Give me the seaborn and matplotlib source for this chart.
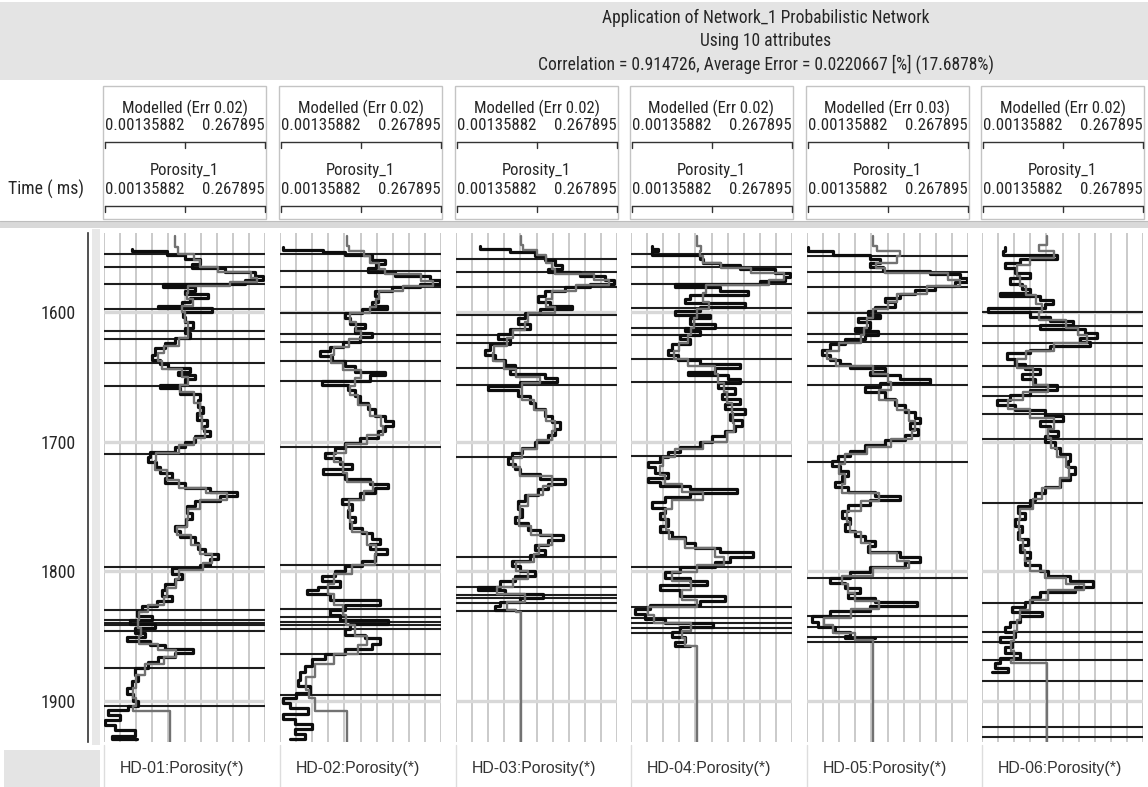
import numpy as np
import pandas as pd
import matplotlib
matplotlib.use("Agg")
import matplotlib.pyplot as plt
import seaborn as sns
from matplotlib import font_manager
from matplotlib.font_manager import FontProperties
from matplotlib.textpath import TextPath
from matplotlib.patches import Rectangle
from matplotlib.lines import Line2D
from matplotlib.transforms import Affine2D

# ---------------- data ----------------
WELLS = ["HD-01", "HD-02", "HD-03", "HD-04", "HD-05", "HD-06"]
ERRS = ["0.02", "0.02", "0.02", "0.02", "0.03", "0.02"]
X_MIN = 0.00135882
X_MAX = 0.267895
X_MIN_LABEL = "0.00135882"
X_MAX_LABEL = "0.267895"
CURVE_NAME = "Porosity_1"
TITLE_LINES = ["Application of Network_1 Probabilistic Network",
               "Using 10 attributes",
               "Correlation = 0.914726, Average Error = 0.0220667 [%] (17.6878%)"]
TIME_TICKS = [1600, 1700, 1800, 1900]
TIME_TOP, TIME_BOTTOM = 1539, 1932

HD01_ACTUAL = [(1551,0.048),(1553,0.106),(1556,0.135),(1559,0.160),(1563,0.147),(1566,0.202),(1569,0.251),(1572,0.264),
    (1575,0.235),(1578,0.099),(1581,0.152),(1584,0.135),(1586,0.174),(1589,0.144),(1592,0.130),(1595,0.091),(1597,0.180),
    (1600,0.132),(1604,0.135),(1608,0.149),(1612,0.135),(1616,0.144),(1620,0.119),(1624,0.102),(1628,0.086),(1633,0.081),
    (1637,0.094),(1640,0.107),(1643,0.144),(1646,0.124),(1649,0.152),(1652,0.135),(1656,0.094),(1659,0.127),(1663,0.160),
    (1668,0.157),(1673,0.165),(1678,0.155),(1683,0.172),(1688,0.167),(1692,0.177),(1696,0.152),(1700,0.135),(1704,0.119),
    (1708,0.078),(1712,0.074),(1716,0.088),(1720,0.094),(1724,0.114),(1728,0.102),(1732,0.135),(1736,0.177),(1739,0.222),
    (1742,0.193),(1746,0.152),(1750,0.139),(1755,0.147),(1760,0.137),(1765,0.119),(1769,0.127),(1774,0.152),(1778,0.157),
    (1783,0.169),(1787,0.190),(1791,0.177),(1795,0.160),(1798,0.114),(1802,0.130),(1806,0.119),(1810,0.102),(1815,0.097),
    (1819,0.114),(1823,0.089),(1827,0.064),(1831,0.056),(1835,0.081),(1838,0.045),(1841,0.086),(1844,0.053),(1848,0.069),
    (1851,0.039),(1854,0.078),(1857,0.102),(1860,0.148),(1863,0.119),(1866,0.091),(1870,0.074),(1875,0.053),(1880,0.058),
    (1885,0.048),(1890,0.039),(1895,0.050),(1900,0.058),(1904,0.041),(1907,0.008),(1911,0.028),(1915,0.003),(1919,0.020),
    (1923,0.053),(1927,0.015),(1930,0.056)]
HD01_MODEL = [(1541,0.119),(1550,0.124),(1555,0.150),(1560,0.160),(1565,0.190),(1569,0.245),(1574,0.255),(1577,0.210),
    (1580,0.140),(1585,0.138),(1590,0.148),(1595,0.130),(1600,0.135),(1608,0.140),(1615,0.140),(1620,0.125),(1626,0.100),
    (1632,0.090),(1638,0.098),(1644,0.130),(1650,0.140),(1656,0.128),(1662,0.150),(1670,0.160),(1680,0.163),(1690,0.168),
    (1697,0.150),(1703,0.125),(1709,0.088),(1715,0.085),(1722,0.105),(1730,0.125),(1736,0.170),(1740,0.205),(1745,0.160),
    (1752,0.140),(1760,0.138),(1766,0.122),(1772,0.145),(1780,0.160),(1787,0.180),(1794,0.165),(1799,0.125),(1806,0.120),
    (1813,0.105),(1820,0.100),(1826,0.075),(1832,0.060),(1838,0.058),(1844,0.062),(1850,0.060),(1856,0.090),(1861,0.120),
    (1866,0.100),(1872,0.070),(1880,0.055),(1890,0.050),(1898,0.055),(1904,0.050),(1908,0.110),(1932,0.110)]
HD01_MARKERS = [1555, 1565, 1578, 1598, 1615, 1621, 1639, 1657, 1710, 1797, 1830, 1838, 1840, 1842, 1846, 1875, 1904]

HD02_ACTUAL = [(1550,0.006),(1552,0.073),(1554,0.109),(1556,0.154),(1560,0.175),(1563,0.160),(1566,0.147),(1569,0.192),
    (1572,0.250),(1575,0.266),(1578,0.233),(1581,0.187),(1584,0.159),(1588,0.164),(1592,0.154),(1595,0.178),(1598,0.137),
    (1601,0.109),(1605,0.117),(1609,0.142),(1612,0.125),(1616,0.154),(1619,0.134),(1623,0.106),(1627,0.084),(1630,0.068),
    (1634,0.087),(1638,0.109),(1642,0.125),(1646,0.175),(1649,0.150),(1653,0.071),(1656,0.114),(1660,0.125),(1665,0.134),
    (1670,0.147),(1675,0.159),(1680,0.175),(1684,0.188),(1688,0.175),(1692,0.164),(1697,0.134),(1701,0.109),(1705,0.092),
    (1709,0.076),(1713,0.101),(1717,0.120),(1721,0.073),(1725,0.109),(1729,0.150),(1733,0.180),(1736,0.159),(1740,0.134),
    (1744,0.104),(1748,0.120),(1753,0.114),(1758,0.125),(1762,0.117),(1767,0.137),(1771,0.154),(1775,0.167),(1779,0.150),
    (1783,0.178),(1787,0.159),(1792,0.137),(1796,0.109),(1800,0.092),(1804,0.071),(1808,0.101),(1812,0.064),(1815,0.046),
    (1818,0.084),(1822,0.167),(1826,0.109),(1830,0.084),(1834,0.101),(1838,0.180),(1841,0.117),(1845,0.109),(1849,0.142),
    (1852,0.167),(1856,0.154),(1860,0.109),(1864,0.076),(1868,0.054),(1873,0.043),(1878,0.034),(1884,0.031),(1889,0.051),
    (1894,0.028),(1898,0.006),(1902,0.018),(1906,0.048),(1910,0.006),(1914,0.026),(1918,0.054),(1922,0.026),(1926,0.043),
    (1930,0.018)]
HD02_MODEL = [(1541,0.112),(1549,0.115),(1553,0.140),(1557,0.150),(1562,0.165),(1567,0.175),(1571,0.235),(1576,0.255),
    (1580,0.205),(1584,0.165),(1590,0.160),(1596,0.150),(1601,0.118),(1608,0.128),(1615,0.135),(1621,0.115),(1627,0.090),
    (1633,0.085),(1639,0.105),(1645,0.135),(1651,0.125),(1657,0.118),(1664,0.130),(1672,0.150),(1680,0.168),(1688,0.172),
    (1695,0.145),(1702,0.110),(1709,0.090),(1716,0.105),(1724,0.112),(1731,0.155),(1738,0.140),(1745,0.115),(1753,0.118),
    (1762,0.120),(1770,0.145),(1780,0.160),(1788,0.158),(1795,0.120),(1802,0.090),(1810,0.080),(1818,0.090),(1826,0.105),
    (1834,0.110),(1842,0.125),(1850,0.145),(1857,0.130),(1864,0.090),(1872,0.060),(1882,0.045),(1892,0.050),(1898,0.060),
    (1908,0.112),(1932,0.112)]
HD02_MARKERS = [1555, 1568, 1581, 1601, 1617, 1623, 1638, 1653, 1704, 1795, 1829, 1835.5, 1839, 1842, 1845, 1864, 1896]

HD03_ACTUAL = [(1549,0.041),(1551,0.091),(1554,0.132),(1557,0.149),(1560,0.165),(1564,0.177),(1567,0.154),(1569,0.207),
    (1572,0.248),(1575,0.263),(1578,0.223),(1581,0.182),(1584,0.149),(1588,0.137),(1592,0.157),(1595,0.193),(1598,0.140),
    (1601,0.116),(1605,0.104),(1609,0.124),(1613,0.091),(1617,0.071),(1621,0.091),(1625,0.058),(1629,0.049),(1633,0.066),
    (1637,0.083),(1641,0.099),(1644,0.091),(1648,0.149),(1651,0.169),(1654,0.107),(1657,0.054),(1660,0.104),(1665,0.124),
    (1670,0.132),(1675,0.149),(1680,0.160),(1685,0.174),(1690,0.165),(1695,0.154),(1700,0.132),(1705,0.111),(1709,0.094),
    (1713,0.087),(1717,0.099),(1721,0.107),(1725,0.140),(1729,0.182),(1733,0.154),(1737,0.137),(1741,0.116),(1746,0.104),
    (1752,0.111),(1758,0.099),(1763,0.121),(1768,0.140),(1772,0.178),(1776,0.154),(1780,0.132),(1784,0.149),(1788,0.124),
    (1792,0.094),(1796,0.107),(1800,0.132),(1804,0.099),(1808,0.074),(1812,0.038),(1815,0.083),(1818,0.145),(1821,0.107),
    (1824,0.074),(1827,0.066),(1830,0.099)]
HD03_MODEL = [(1541,0.109),(1548,0.112),(1552,0.135),(1556,0.150),(1562,0.160),(1567,0.165),(1571,0.230),(1575,0.255),
    (1579,0.200),(1584,0.160),(1590,0.150),(1596,0.165),(1601,0.120),(1608,0.115),(1614,0.095),(1620,0.085),(1626,0.065),
    (1632,0.062),(1638,0.080),(1644,0.100),(1650,0.140),(1655,0.110),(1660,0.110),(1668,0.130),(1676,0.150),(1684,0.165),
    (1692,0.160),(1699,0.135),(1706,0.110),(1713,0.095),(1720,0.108),(1727,0.160),(1734,0.145),(1741,0.120),(1750,0.108),
    (1758,0.105),(1765,0.125),(1772,0.160),(1780,0.138),(1787,0.130),(1793,0.100),(1800,0.120),(1806,0.095),(1812,0.070),
    (1818,0.115),(1824,0.085),(1830,0.100),(1832,0.109),(1932,0.109)]
HD03_MARKERS = [1559, 1569, 1581, 1602, 1618, 1624, 1643, 1656, 1712, 1789, 1812, 1818.5, 1821, 1825, 1831]

HD04_ACTUAL = [(1549,0.036),(1551,0.046),(1553,0.036),(1556,0.116),(1559,0.121),(1562,0.149),(1564,0.182),(1567,0.240),
    (1570,0.264),(1573,0.256),(1576,0.215),(1578,0.074),(1581,0.149),(1584,0.195),(1587,0.099),(1590,0.091),(1593,0.190),
    (1596,0.116),(1599,0.074),(1602,0.132),(1605,0.099),(1609,0.140),(1612,0.091),(1615,0.116),(1618,0.083),(1621,0.099),
    (1625,0.069),(1629,0.063),(1633,0.079),(1637,0.116),(1640,0.182),(1643,0.140),(1646,0.096),(1649,0.162),(1652,0.182),
    (1655,0.145),(1659,0.174),(1663,0.152),(1667,0.182),(1671,0.157),(1675,0.190),(1679,0.165),(1683,0.185),(1688,0.174),
    (1692,0.157),(1696,0.135),(1700,0.116),(1704,0.083),(1708,0.063),(1712,0.049),(1716,0.030),(1720,0.041),(1724,0.063),
    (1728,0.030),(1731,0.049),(1734,0.099),(1737,0.177),(1740,0.099),(1743,0.058),(1747,0.036),(1751,0.058),(1755,0.049),
    (1760,0.063),(1765,0.049),(1770,0.069),(1774,0.091),(1778,0.107),(1782,0.149),(1785,0.203),(1789,0.165),(1793,0.140),
    (1797,0.083),(1801,0.058),(1805,0.099),(1808,0.127),(1811,0.049),(1815,0.083),(1819,0.157),(1823,0.116),(1826,0.033),
    (1829,0.008),(1833,0.025),(1837,0.058),(1840,0.137),(1843,0.083),(1847,0.069),(1851,0.091),(1855,0.074),(1858,0.099)]
HD04_MODEL = [(1541,0.111),(1549,0.118),(1553,0.115),(1557,0.120),(1562,0.150),(1566,0.200),(1570,0.255),(1575,0.230),
    (1579,0.125),(1585,0.120),(1592,0.130),(1598,0.110),(1605,0.105),(1612,0.100),(1618,0.095),(1624,0.080),(1630,0.072),
    (1636,0.095),(1642,0.140),(1648,0.145),(1655,0.155),(1662,0.160),(1670,0.168),(1678,0.170),(1686,0.172),(1693,0.160),
    (1700,0.120),(1706,0.075),(1712,0.055),(1719,0.050),(1726,0.058),(1733,0.085),(1739,0.120),(1745,0.070),(1752,0.058),
    (1760,0.060),(1768,0.065),(1775,0.090),(1782,0.140),(1789,0.155),(1795,0.110),(1801,0.070),(1808,0.100),(1815,0.085),
    (1822,0.110),(1828,0.030),(1834,0.040),(1840,0.100),(1846,0.085),(1852,0.090),(1858,0.111),(1932,0.111)]
HD04_MARKERS = [1555, 1565, 1578, 1597, 1612, 1618, 1636, 1654, 1711, 1797, 1828, 1836, 1840, 1844, 1848]

HD05_ACTUAL = [(1550,0.003),(1553,0.044),(1556,0.106),(1559,0.122),(1562,0.106),(1565,0.127),(1568,0.205),(1571,0.255),
    (1574,0.266),(1577,0.246),(1580,0.213),(1583,0.180),(1586,0.155),(1589,0.130),(1592,0.147),(1596,0.114),(1599,0.102),
    (1602,0.122),(1605,0.086),(1608,0.106),(1612,0.081),(1615,0.119),(1618,0.097),(1621,0.064),(1625,0.039),(1629,0.026),
    (1633,0.039),(1637,0.056),(1640,0.073),(1643,0.130),(1646,0.106),(1649,0.155),(1652,0.205),(1655,0.122),(1658,0.097),
    (1662,0.130),(1667,0.147),(1672,0.164),(1677,0.180),(1682,0.188),(1686,0.172),(1690,0.185),(1695,0.164),(1699,0.130),
    (1703,0.097),(1707,0.073),(1711,0.053),(1715,0.043),(1719,0.056),(1723,0.069),(1727,0.059),(1731,0.048),(1735,0.069),
    (1739,0.114),(1742,0.155),(1745,0.106),(1749,0.069),(1754,0.059),(1759,0.073),(1764,0.064),(1769,0.081),(1773,0.097),
    (1777,0.114),(1781,0.102),(1785,0.155),(1789,0.188),(1793,0.164),(1797,0.106),(1801,0.073),(1805,0.039),(1809,0.064),
    (1813,0.089),(1817,0.069),(1821,0.114),(1824,0.183),(1827,0.106),(1831,0.039),(1835,0.010),(1839,0.020),(1843,0.048),
    (1847,0.073),(1850,0.064),(1852,0.114)]
HD05_MODEL = [(1541,0.110),(1549,0.118),(1553,0.155),(1557,0.150),(1562,0.115),(1566,0.130),(1570,0.235),(1575,0.255),
    (1580,0.200),(1586,0.150),(1592,0.135),(1598,0.110),(1605,0.100),(1612,0.095),(1618,0.090),(1624,0.055),(1630,0.035),
    (1636,0.050),(1642,0.110),(1648,0.135),(1654,0.140),(1660,0.120),(1668,0.150),(1676,0.170),(1684,0.180),(1692,0.175),
    (1698,0.140),(1704,0.100),(1710,0.065),(1717,0.055),(1725,0.065),(1733,0.060),(1740,0.120),(1746,0.090),(1754,0.068),
    (1762,0.072),(1770,0.090),(1778,0.105),(1786,0.150),(1792,0.170),(1798,0.110),(1804,0.060),(1810,0.070),(1817,0.080),
    (1823,0.120),(1829,0.075),(1836,0.030),(1842,0.045),(1848,0.080),(1853,0.110),(1932,0.110)]
HD05_MARKERS = [1557, 1569, 1581, 1601, 1617, 1623, 1642, 1656, 1716, 1805, 1835, 1843, 1851, 1855]

HD06_ACTUAL = [(1550,0.039),(1553,0.036),(1556,0.126),(1559,0.064),(1562,0.039),(1566,0.056),(1570,0.081),(1574,0.048),
    (1578,0.068),(1582,0.081),(1585,0.031),(1588,0.097),(1591,0.119),(1594,0.106),(1597,0.011),(1600,0.081),(1604,0.114),
    (1607,0.152),(1610,0.097),(1613,0.172),(1616,0.192),(1620,0.164),(1623,0.180),(1626,0.114),(1629,0.081),(1632,0.043),
    (1636,0.056),(1640,0.073),(1644,0.097),(1648,0.068),(1652,0.089),(1656,0.126),(1660,0.081),(1664,0.048),(1668,0.026),
    (1672,0.056),(1676,0.106),(1680,0.135),(1684,0.097),(1688,0.114),(1692,0.127),(1696,0.106),(1700,0.122),(1705,0.130),
    (1710,0.147),(1715,0.144),(1720,0.155),(1725,0.147),(1730,0.130),(1735,0.106),(1740,0.089),(1745,0.081),(1750,0.061),
    (1755,0.073),(1760,0.056),(1765,0.068),(1770,0.061),(1775,0.078),(1780,0.064),(1785,0.081),(1790,0.073),(1795,0.097),
    (1800,0.111),(1804,0.147),(1808,0.185),(1812,0.155),(1816,0.097),(1820,0.084),(1824,0.073),(1828,0.051),(1832,0.101),
    (1835,0.064),(1839,0.048),(1843,0.039),(1847,0.056),(1851,0.031),(1855,0.051),(1859,0.039),(1863,0.064),(1867,0.031),
    (1871,0.023),(1875,0.044),(1878,0.018)]
HD06_MODEL = [(1541,0.109),(1548,0.095),(1553,0.120),(1558,0.080),(1564,0.060),(1572,0.065),(1580,0.075),(1587,0.090),
    (1594,0.100),(1600,0.095),(1606,0.140),(1612,0.160),(1618,0.175),(1624,0.120),(1630,0.075),(1636,0.060),(1643,0.085),
    (1650,0.085),(1656,0.110),(1662,0.070),(1668,0.045),(1675,0.080),(1682,0.120),(1690,0.110),(1697,0.115),(1705,0.125),
    (1712,0.140),(1720,0.145),(1728,0.130),(1736,0.100),(1744,0.085),(1752,0.065),(1760,0.062),(1768,0.065),(1776,0.070),
    (1784,0.072),(1792,0.080),(1800,0.105),(1805,0.140),(1810,0.170),(1815,0.110),(1822,0.080),(1830,0.065),(1838,0.060),
    (1846,0.055),(1854,0.050),(1862,0.055),(1869,0.050),(1871,0.109),(1932,0.109)]
HD06_MARKERS = [1600, 1611, 1624, 1642, 1658, 1665, 1679, 1698, 1747.5, 1825, 1847, 1855, 1869, 1885, 1920.5, 1928]

ACTUALS = [HD01_ACTUAL, HD02_ACTUAL, HD03_ACTUAL, HD04_ACTUAL, HD05_ACTUAL, HD06_ACTUAL]
MODELS = [HD01_MODEL, HD02_MODEL, HD03_MODEL, HD04_MODEL, HD05_MODEL, HD06_MODEL]
MARKERS = [HD01_MARKERS, HD02_MARKERS, HD03_MARKERS, HD04_MARKERS, HD05_MARKERS, HD06_MARKERS]

# ---------------- style / fonts ----------------
sns.set_style("white")
avail = {f.name for f in font_manager.fontManager.ttflist}
FAMILY = next((f for f in ["Liberation Sans Narrow", "Arial Narrow", "Roboto Condensed",
                           "DejaVu Sans Condensed", "Liberation Sans", "Roboto", "DejaVu Sans"]
               if f in avail), "DejaVu Sans")
REGULAR = next((f for f in ["Liberation Sans", "Open Sans", "Noto Sans", "DejaVu Sans"] if f in avail),
               "DejaVu Sans")
plt.rcParams["font.family"] = [FAMILY, "DejaVu Sans"]


def fp_fit(text, target_px, family=FAMILY):
    """Font properties sized so that `text` is about target_px wide at 100 dpi."""
    w = TextPath((0, 0), text, size=10, prop=FontProperties(family=family)).get_extents().width
    size = 10.0 * target_px / (w * 100.0 / 72.0)
    return FontProperties(family=family, size=size)


FP_TITLE = fp_fit(TITLE_LINES[2], 455)
FP_HEAD = fp_fit("Modelled (Err 0.02)", 124)
FP_NUM = fp_fit("0.00135882", 77)
FP_TIME = fp_fit("Time ( ms)", 74)
FP_TICK = fp_fit("1600", 33)
FP_WELL = fp_fit("HD-01:Porosity(*)", 122, REGULAR)

W, H = 1148, 787
fig = plt.figure(figsize=(W / 100, H / 100), dpi=100)
PX = Affine2D().scale(1.0 / W, -1.0 / H).translate(0, 1) + fig.transFigure


def rect(x0, y0, x1, y1, **kw):
    fig.add_artist(Rectangle((x0, y0), x1 - x0, y1 - y0, transform=PX, **kw))


def line(xs, ys, **kw):
    fig.add_artist(Line2D(xs, ys, transform=PX, **kw))


TXT = "#262626"
# title band
rect(0, 2, W, 80, facecolor="#e4e4e4", edgecolor="none", zorder=0)
for i, t in enumerate(TITLE_LINES):
    fig.text(766, 18 + 23 * i, t, transform=PX, ha="center", va="center",
             fontproperties=FP_TITLE, color=TXT)

TRACK_X = [104, 280, 456, 631, 807, 982]
TW = 161
PLOT_TOP, PLOT_BOT = 233, 742

# header boxes
for k, x0 in enumerate(TRACK_X):
    rect(x0 - 1, 86, x0 + TW + 1, 219, facecolor="white", edgecolor="#c4c4c4", lw=1.0, zorder=1)
    xc = x0 + TW / 2
    for (lab, ty, vy, by) in [(f"Modelled (Err {ERRS[k]})", 108, 126, 142),
                              (CURVE_NAME, 171, 189, 206)]:
        fig.text(xc, ty, lab, transform=PX, ha="center", va="center", fontproperties=FP_HEAD, color=TXT)
        fig.text(x0 + 1, vy, X_MIN_LABEL, transform=PX, ha="left", va="center", fontproperties=FP_NUM, color=TXT)
        fig.text(x0 + TW, vy, X_MAX_LABEL, transform=PX, ha="right", va="center", fontproperties=FP_NUM, color=TXT)
        line([x0 + 1, x0 + TW], [by, by], color="#333333", lw=1.0)
        for tx in (x0 + 1, xc, x0 + TW):
            line([tx, tx], [by, by + 6], color="#333333", lw=1.0)

fig.text(8, 189, "Time ( ms)", transform=PX, ha="left", va="center", fontproperties=FP_TIME, color=TXT)

# separator band under header
rect(0, 221, W, 228, facecolor="#d9d9d9", edgecolor="none", zorder=0)
line([0, W], [221, 221], color="#bdbdbd", lw=0.8)
# light strip left of tracks
rect(92, 229, 100, 745, facecolor="#e8e8e8", edgecolor="none", zorder=0)

# bottom label band
rect(4, 750, 100, H, facecolor="#e4e4e4", edgecolor="none", zorder=0)
for k, x0 in enumerate(TRACK_X):
    line([x0, x0], [745, H], color="#dddddd", lw=1.0)
    fig.text(x0 + 16, 768, f"{WELLS[k]}:Porosity(*)", transform=PX, ha="left", va="center",
             fontproperties=FP_WELL, color="#333333")

# time axis
ax_t = fig.add_axes([88 / W, 1 - PLOT_BOT / H, 0.5 / W, (PLOT_BOT - PLOT_TOP) / H])
ax_t.set_ylim(TIME_BOTTOM, TIME_TOP)
ax_t.set_xlim(0, 1)
ax_t.set_yticks(TIME_TICKS)
ax_t.set_yticks(np.arange(1540, 1940, 20), minor=True)
ax_t.set_xticks([])
for s in ["top", "right", "bottom"]:
    ax_t.spines[s].set_visible(False)
ax_t.spines["left"].set_color("#333333")
ax_t.spines["left"].set_linewidth(1.2)
ax_t.tick_params(axis="y", which="both", direction="out", length=6, width=1.2, color="#333333",
                 labelcolor=TXT, pad=3)
for lbl in ax_t.get_yticklabels():
    lbl.set_fontproperties(FP_TICK)
ax_t.patch.set_alpha(0)

# tracks
for k, x0 in enumerate(TRACK_X):
    ax = fig.add_axes([x0 / W, 1 - PLOT_BOT / H, TW / W, (PLOT_BOT - PLOT_TOP) / H])
    ax.set_xlim(X_MIN, X_MAX)
    ax.set_ylim(TIME_BOTTOM, TIME_TOP)
    ax.set_xticks(np.linspace(X_MIN, X_MAX, 11))
    ax.set_yticks(TIME_TICKS)
    ax.set_axisbelow(True)
    ax.grid(axis="x", color="#c6c6c6", lw=1.3)
    ax.grid(axis="y", color="#d8d8d8", lw=2.4)
    ax.tick_params(length=0, labelbottom=False, labelleft=False)
    for s in ax.spines.values():
        s.set_visible(False)
    for d in MARKERS[k]:
        ax.axhline(d, color="#1e1e1e", lw=1.5, zorder=2)
    act = pd.DataFrame(ACTUALS[k], columns=["time", "por"])
    mod = pd.DataFrame(MODELS[k], columns=["time", "por"])
    sns.lineplot(data=act, x="por", y="time", orient="y", sort=False, estimator=None, ax=ax,
                 color="#0d0d0d", lw=2.3, drawstyle="steps-pre", zorder=3)
    sns.lineplot(data=mod, x="por", y="time", orient="y", sort=False, estimator=None, ax=ax,
                 color="#727272", lw=1.7, drawstyle="steps-pre", zorder=4)
    ax.set_xlabel("")
    ax.set_ylabel("")
    ax.set_xlim(X_MIN, X_MAX)
    ax.set_ylim(TIME_BOTTOM, TIME_TOP)

fig.savefig("out.png", dpi=100)
